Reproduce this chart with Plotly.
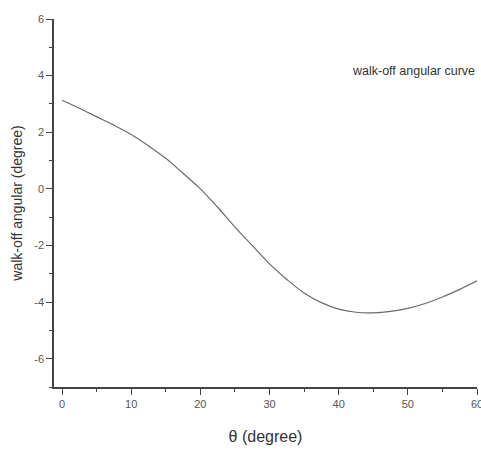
import plotly.graph_objects as go

theta = [0, 2.5, 5, 7.5, 10, 12.5, 15, 17.5, 20, 22.5, 25, 27.5, 30, 32.5, 35,
         37.5, 40, 42.5, 45, 47.5, 50, 52.5, 55, 57.5, 60]
walkoff = [3.13, 2.85, 2.55, 2.25, 1.92, 1.52, 1.08, 0.55, 0.0, -0.65, -1.35, -2.0,
           -2.65, -3.2, -3.68, -4.02, -4.25, -4.36, -4.38, -4.33, -4.22, -4.05,
           -3.82, -3.55, -3.25]
x_ticks = [0, 10, 20, 30, 40, 50, 60]
y_ticks = [-6, -4, -2, 0, 2, 4, 6]
y_tick_labels = ["-6", "-4", "-2", "0", "2", "4", "6"]

fig = go.Figure()
fig.add_trace(go.Scatter(x=theta, y=walkoff, mode="lines",
                         line=dict(color="#6a6a6a", width=1.2, shape="spline"),
                         showlegend=False, cliponaxis=False))

axis_common = dict(showgrid=False, zeroline=False, showline=True,
                   linecolor="#444444", linewidth=1.5, automargin=False,
                   ticks="outside", ticklen=6, tickwidth=1.2, tickcolor="#444444",
                   ticklabeloverflow="allow",
                   tickfont=dict(family="Liberation Sans, Arial", size=11, color="#555555"))

fig.update_xaxes(range=[-1.16, 60], tickvals=x_ticks,
                 minor=dict(dtick=5, ticks="outside", ticklen=3, tickcolor="#444444", tickwidth=1.2),
                 title=dict(text="θ (degree)", font=dict(family="Liberation Sans, Arial", size=16, color="#333333"),
                            standoff=22),
                 **axis_common)
fig.update_yaxes(range=[-7, 6], tickvals=y_ticks, ticktext=y_tick_labels,
                 minor=dict(dtick=1, ticks="outside", ticklen=3, tickcolor="#444444", tickwidth=1.2),
                 title=dict(text="walk-off angular (degree)", font=dict(family="Liberation Sans, Arial", size=14, color="#333333"),
                            standoff=8),
                 **axis_common)

fig.add_annotation(text="walk-off angular curve", x=1.0, y=0.86, xref="paper", yref="paper",
                   xanchor="right", yanchor="middle", showarrow=False,
                   font=dict(family="Liberation Sans, Arial", size=12.5, color="#333333"))

fig.update_layout(width=481, height=451, margin=dict(l=54, r=4, t=19, b=64),
                  paper_bgcolor="white", plot_bgcolor="white")

fig.write_html("out.html", config={"displayModeBar": False},
               post_script="document.body.style.margin='0';document.body.style.overflow='hidden';")
